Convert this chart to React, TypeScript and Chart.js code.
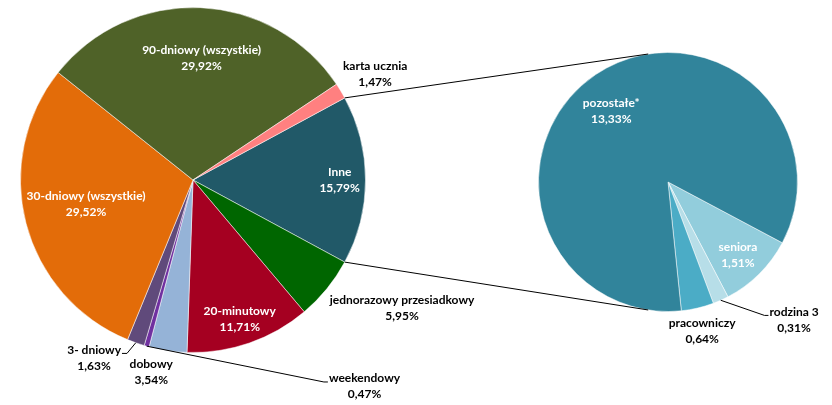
import React, { useEffect, useRef } from 'react';
import { Chart, registerables } from 'chart.js';

Chart.register(...registerables);

// ---- data ----
const mainLabels = ['Inne', 'jednorazowy przesiadkowy', '20-minutowy', 'dobowy', 'weekendowy', '3- dniowy', '30-dniowy (wszystkie)', '90-dniowy (wszystkie)', 'karta ucznia'];
const mainValues = [15.79, 5.95, 11.71, 3.54, 0.47, 1.63, 29.52, 29.92, 1.47];
const mainColors = ['#215968', '#006600', '#A50021', '#95B3D7', '#7030A0', '#604A7B', '#E36C09', '#4F6228', '#FF8080'];

const subLabels = ['seniora', 'rodzina 3', 'pracowniczy', 'pozostałe*'];
const subValues = [1.51, 0.31, 0.64, 13.33];
const subColors = ['#92CDDC', '#B7DEE8', '#4BACC6', '#31849B'];

// ---- label placement (relative to each slice: radius factor, angle shift in degrees) ----
type Place = { r: number; da: number; white?: boolean; leader?: 'left' | 'right' };
const mainPlacement: Place[] = [
  { r: 0.85, da: 0, white: true },
  { r: 1.42, da: -7.7 },
  { r: 0.85, da: 0.5, white: true },
  { r: 1.14, da: 3.9 },
  { r: 1.556, da: -55.3, leader: 'left' },
  { r: 1.18, da: 9.7, leader: 'right' },
  { r: 0.635, da: 2, white: true },
  { r: 0.71, da: 1.6, white: true },
  { r: 1.22, da: 1 },
];
const subPlacement: Place[] = [
  { r: 0.78, da: 1, white: true },
  { r: 1.443, da: -18.4, leader: 'left' },
  { r: 1.18, da: 0.3 },
  { r: 0.7, da: -4.8, white: true },
];

const FONT = 'bold 12px Lato';
const LINE = 16;
const CONNECTOR_ANGLE = 98.8; // degrees from the right, on the second pie
const SUB_ROTATION = 118;

const fmt = (v: number) => v.toFixed(2).replace('.', ',') + '%';

function labelPlugin(id: string, labels: string[], values: number[], places: Place[]) {
  return {
    id,
    afterDraw(chart: any) {
      const ctx: CanvasRenderingContext2D = chart.ctx;
      const meta = chart.getDatasetMeta(0);
      ctx.save();
      ctx.font = FONT;
      ctx.textAlign = 'center';
      ctx.textBaseline = 'middle';
      meta.data.forEach((el: any, i: number) => {
        const p = places[i];
        const mid = (el.startAngle + el.endAngle) / 2;
        const a = mid + (p.da * Math.PI) / 180;
        const R = el.outerRadius;
        const cx = el.x + Math.cos(a) * R * p.r;
        const cy = el.y + Math.sin(a) * R * p.r;
        const l1 = cy - LINE / 2;
        const l2 = cy + LINE / 2;
        if (p.leader) {
          const w = ctx.measureText(labels[i]).width;
          const sx = el.x + Math.cos(mid) * R;
          const sy = el.y + Math.sin(mid) * R;
          const ly = l1 + 3.5;
          const edge = p.leader === 'left' ? cx - w / 2 - 1 : cx + w / 2 + 1;
          const knee = p.leader === 'left' ? edge - 4 : edge + 5;
          ctx.beginPath();
          ctx.strokeStyle = '#000';
          ctx.lineWidth = 1;
          ctx.moveTo(sx, sy);
          ctx.lineTo(knee, ly);
          ctx.lineTo(edge, ly);
          ctx.stroke();
        }
        ctx.fillStyle = p.white ? '#ffffff' : '#000000';
        ctx.fillText(labels[i], cx, l1);
        ctx.fillText(fmt(values[i]), cx, l2);
      });
      ctx.restore();
    },
  };
}

function connectorPlugin(getMain: () => any) {
  return {
    id: 'connector',
    afterDraw(chart: any) {
      const main = getMain();
      if (!main) return;
      const m = main.getDatasetMeta(0).data[0] as any;
      const s = chart.getDatasetMeta(0).data[0] as any;
      const ctx: CanvasRenderingContext2D = chart.ctx;
      const ca = (CONNECTOR_ANGLE * Math.PI) / 180;
      const p1 = [m.x + Math.cos(m.startAngle) * m.outerRadius, m.y + Math.sin(m.startAngle) * m.outerRadius];
      const p2 = [m.x + Math.cos(m.endAngle) * m.outerRadius, m.y + Math.sin(m.endAngle) * m.outerRadius];
      const q1 = [s.x + Math.cos(-ca) * s.outerRadius, s.y + Math.sin(-ca) * s.outerRadius];
      const q2 = [s.x + Math.cos(ca) * s.outerRadius, s.y + Math.sin(ca) * s.outerRadius];
      ctx.save();
      ctx.strokeStyle = '#000';
      ctx.lineWidth = 1;
      ctx.beginPath();
      ctx.moveTo(p1[0], p1[1]);
      ctx.lineTo(q1[0], q1[1]);
      ctx.moveTo(p2[0], p2[1]);
      ctx.lineTo(q2[0], q2[1]);
      ctx.stroke();
      ctx.restore();
    },
  };
}

export default function App() {
  const mainRef = useRef<HTMLCanvasElement>(null);
  const subRef = useRef<HTMLCanvasElement>(null);

  useEffect(() => {
    const total = mainValues.reduce((a, b) => a + b, 0);
    const mainRotation = 90 - (mainValues[0] / total) * 180;
    const common = {
      responsive: false,
      animation: false as const,
      plugins: { legend: { display: false }, tooltip: { enabled: false } },
      events: [] as any[],
    };
    const main = new Chart(mainRef.current!, {
      type: 'pie',
      data: {
        labels: mainLabels,
        datasets: [{
          data: mainValues,
          backgroundColor: mainColors,
          borderColor: 'rgba(255,255,255,0.5)',
          borderWidth: 1,
          hoverOffset: 0,
        }],
      },
      options: {
        ...common,
        rotation: mainRotation,
        layout: { padding: { left: 20, top: 7, right: 466, bottom: 52 } },
      },
      plugins: [labelPlugin('mainLabels', mainLabels, mainValues, mainPlacement)],
    } as any);
    const sub = new Chart(subRef.current!, {
      type: 'pie',
      data: {
        labels: subLabels,
        datasets: [{
          data: subValues,
          backgroundColor: subColors,
          borderColor: 'rgba(255,255,255,0.5)',
          borderWidth: 1,
          hoverOffset: 0,
        }],
      },
      options: {
        ...common,
        rotation: SUB_ROTATION,
        layout: { padding: { left: 538, top: 52, right: 34, bottom: 93 } },
      },
      plugins: [labelPlugin('subLabels', subLabels, subValues, subPlacement), connectorPlugin(() => main)],
    } as any);
    return () => {
      sub.destroy();
      main.destroy();
    };
  }, []);

  return (
    <div style={{ position: 'fixed', left: 0, top: 0, width: 832, height: 405, background: '#fff' }}>
      <canvas ref={mainRef} width={832} height={405} style={{ position: 'absolute', left: 0, top: 0 }} />
      <canvas ref={subRef} width={832} height={405} style={{ position: 'absolute', left: 0, top: 0 }} />
    </div>
  );
}
